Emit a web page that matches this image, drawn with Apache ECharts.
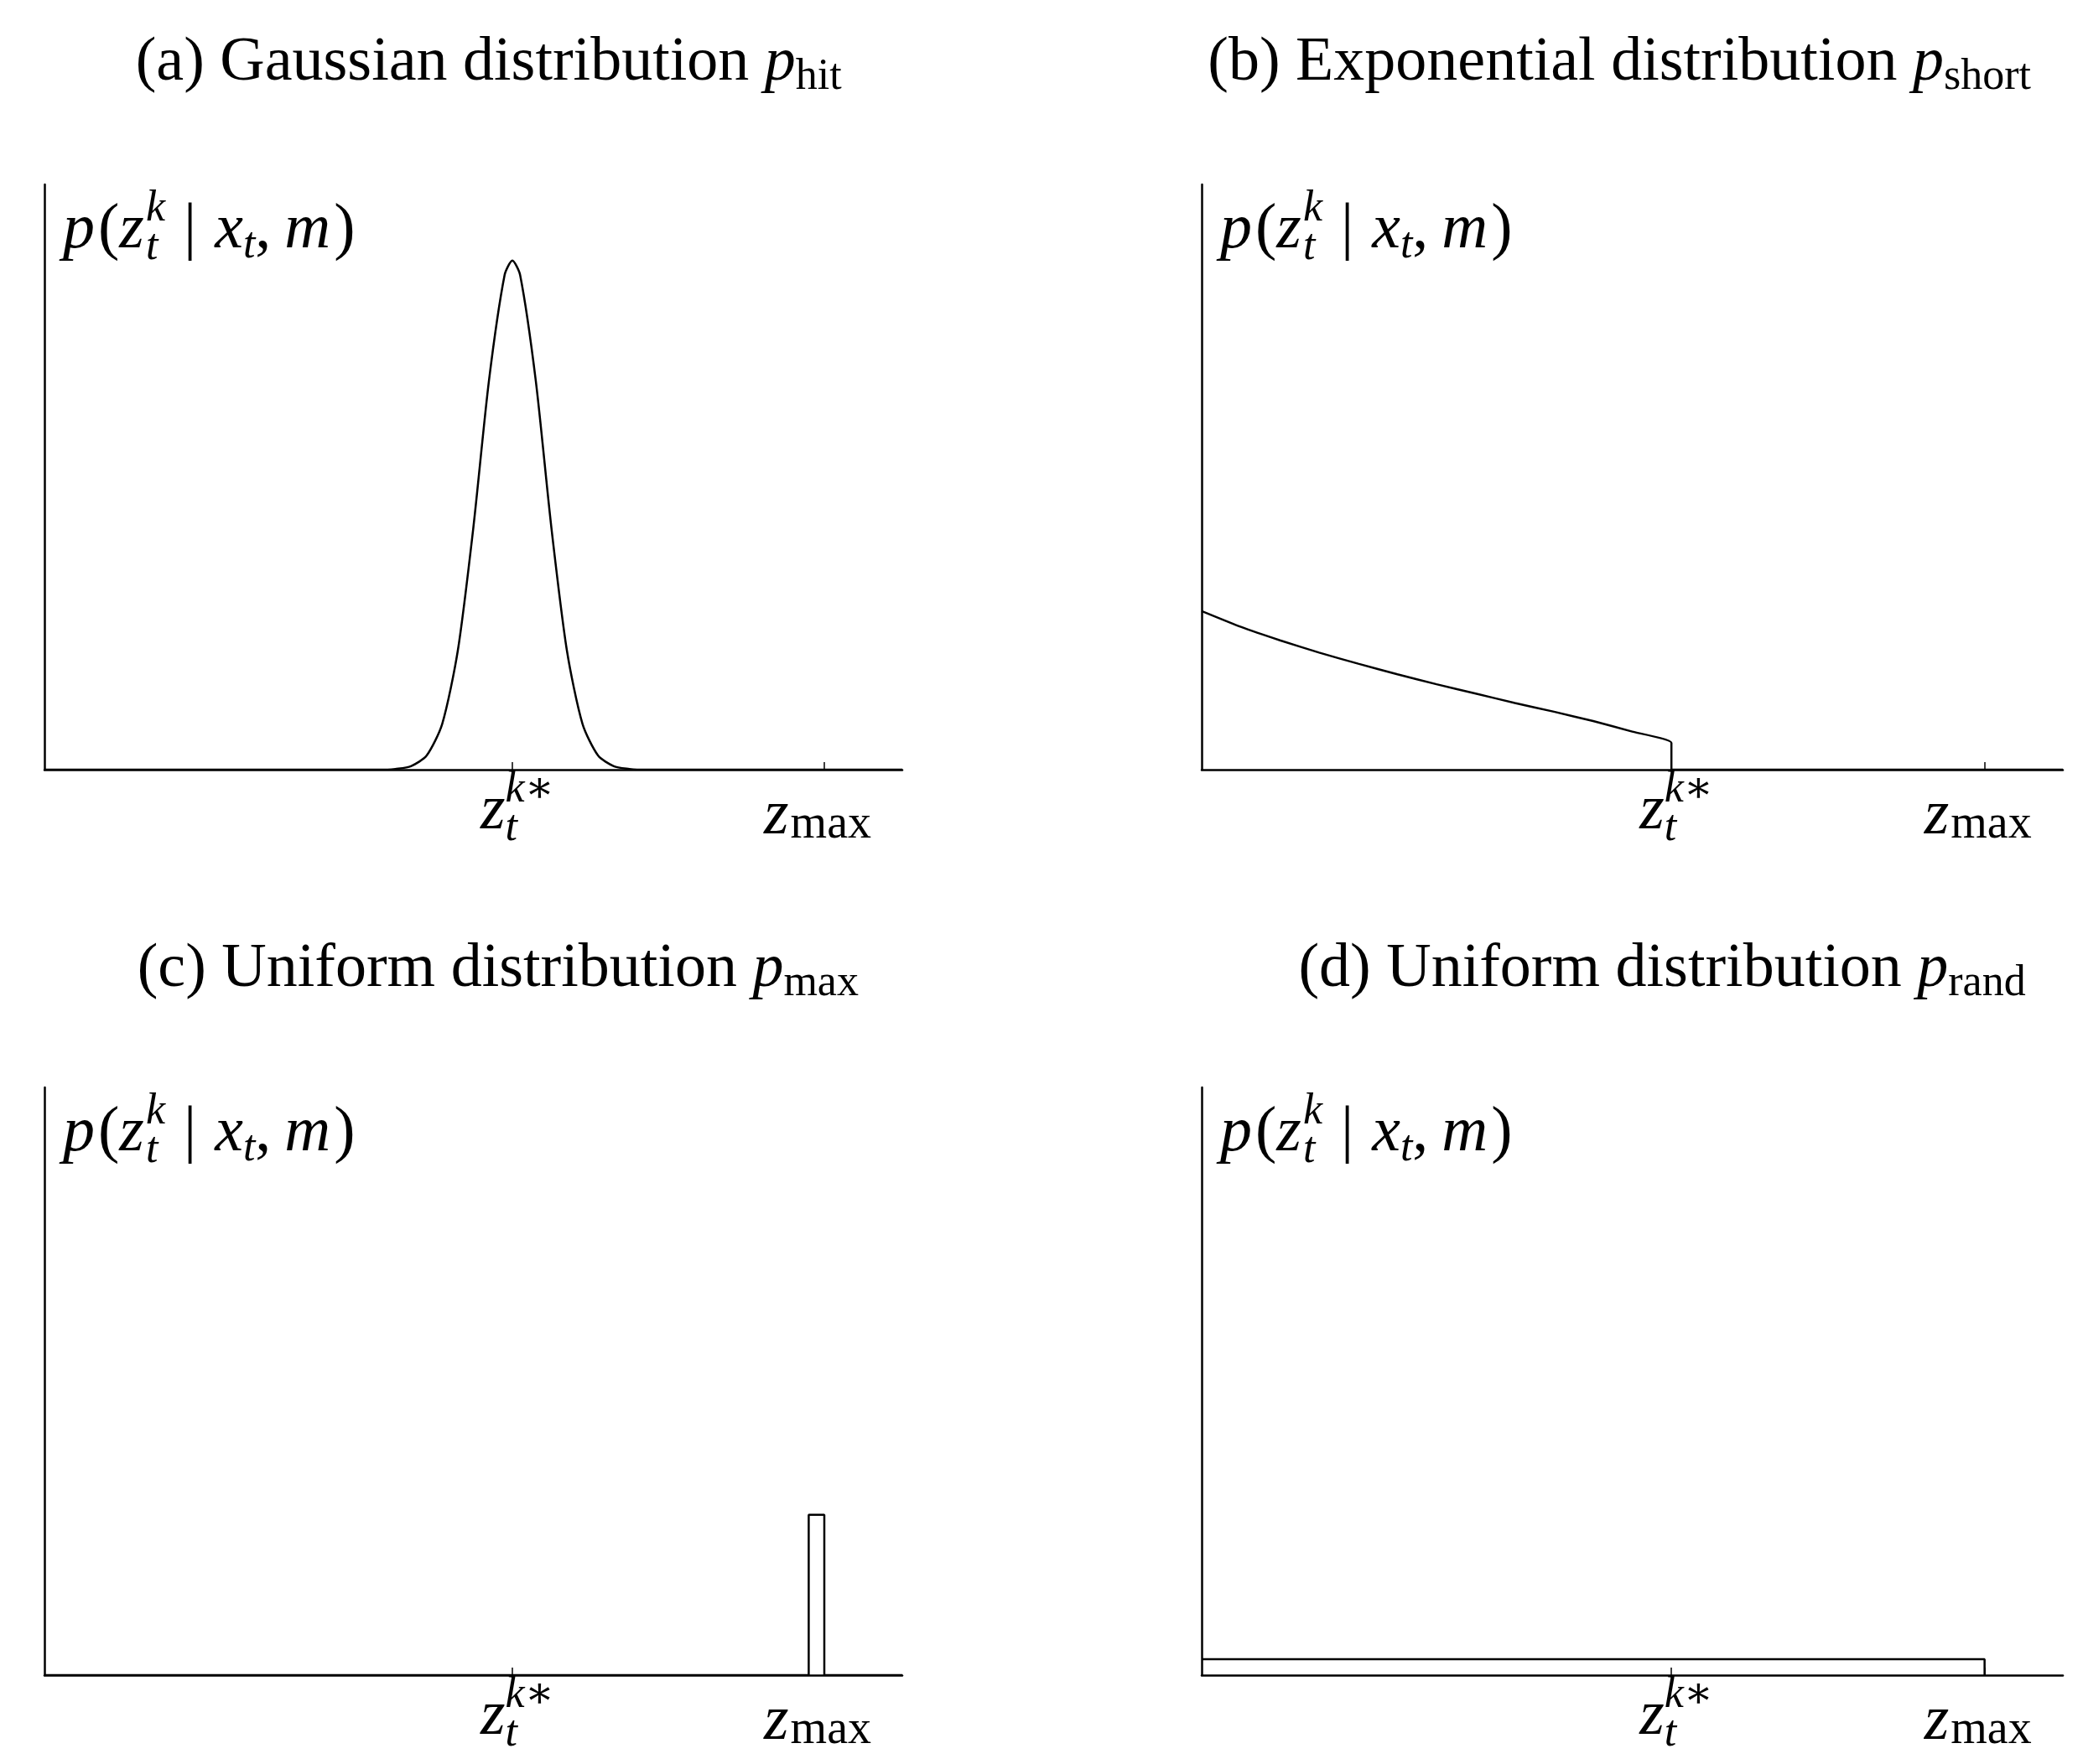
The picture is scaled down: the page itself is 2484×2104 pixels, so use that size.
<!DOCTYPE html>
<html>
<head>
<meta charset="utf-8">
<script src="https://cdn.jsdelivr.net/npm/echarts@6/dist/echarts.min.js"></script>
<style>
  html, body { margin: 0; padding: 0; background: #fff; }
  #chart { width: 2484px; height: 2104px; }
</style>
</head>
<body>
<div id="chart"></div>
<script>
// x positions in arbitrary range units, axis 0..11
const zStar = 6;
const zMax = 10;
const xRange = [0, 11];

// (a) gaussian around z*
const hitCurve = [[0, 0], [4.4, 0], [4.5, 0.001], [4.7, 0.006], [4.9, 0.024], [5.1, 0.078], [5.3, 0.203],
  [5.5, 0.414], [5.7, 0.665], [5.9, 0.845], [6.0, 0.87], [6.1, 0.845], [6.3, 0.665], [6.5, 0.414],
  [6.7, 0.203], [6.9, 0.078], [7.1, 0.024], [7.3, 0.006], [7.5, 0.001], [7.6, 0], [11, 0]];
// (b) decaying curve cut at z*
const shortCurve = [[0, 0.271], [0.5, 0.244], [1, 0.221], [1.5, 0.200], [2, 0.181], [2.5, 0.163], [3, 0.146],
  [3.5, 0.130], [4, 0.114], [4.5, 0.099], [5, 0.083], [5.5, 0.065], [6, 0.046], [6, 0], [11, 0]];
// (c) narrow box at z_max
const maxBox = [[0, 0], [9.8, 0], [9.8, 0.273], [10, 0.273], [10, 0], [11, 0]];
// (d) flat box up to z_max
const randBox = [[0, 0.027], [10, 0.027], [10, 0]];

const FONT = '"Liberation Serif", "DejaVu Serif", serif';
const grids = [
  { left: 53, top: 220, width: 1023, height: 698 },
  { left: 1433, top: 220, width: 1027, height: 698 },
  { left: 53, top: 1297, width: 1023, height: 701 },
  { left: 1433, top: 1297, width: 1027, height: 701 }
];
const curves = [hitCurve, shortCurve, maxBox, randBox];

const chart = echarts.init(document.getElementById('chart'));
const ax = { lineStyle: { color: '#000', width: 2.5 } };

chart.setOption({
  backgroundColor: '#fff',
  animation: false,
  grid: grids,
  xAxis: grids.map((g, i) => ({
    type: 'value', gridIndex: i, min: xRange[0], max: xRange[1],
    axisLine: ax, splitLine: { show: false }, axisLabel: { show: false },
    axisTick: { show: true, inside: true, length: 9, customValues: [zStar, zMax], lineStyle: { color: '#000', width: 1.5 } }
  })),
  yAxis: grids.map((g, i) => ({
    type: 'value', gridIndex: i, min: 0, max: 1,
    axisLine: { show: true, lineStyle: { color: '#000', width: 2.5 } },
    splitLine: { show: false }, axisLabel: { show: false }, axisTick: { show: false }
  })),
  series: curves.map((d, i) => ({
    type: 'line', xAxisIndex: i, yAxisIndex: i, data: d,
    showSymbol: false, smooth: i === 0 ? 0.25 : (i === 1 ? 0.15 : false),
    lineStyle: { color: '#000', width: 2.5 }
  }))
});

// math-ish text layout
const ctx = document.createElement('canvas').getContext('2d');
function fontOf(p) { return (p.i ? 'italic ' : '') + p.f + 'px ' + FONT; }
function mathText(x, y, pieces, align) {
  let cx = 0, prevStart = 0, maxX = 0;
  const pos = pieces.map(p => {
    ctx.font = fontOf(p);
    const w = ctx.measureText(p.s).width + (p.gap || 0);
    const start = p.back ? prevStart : cx + (p.pre || 0);
    prevStart = start;
    cx = p.back ? Math.max(cx, start + w) : start + w;
    maxX = Math.max(maxX, cx);
    return start;
  });
  const x0 = align === 'center' ? x - maxX / 2 : x;
  return pieces.map((p, k) => ({
    type: 'text', x: x0 + pos[k], y: y + (p.dy || 0),
    style: { text: p.s, font: fontOf(p), fill: '#000', verticalAlign: 'middle' }
  }));
}
function up(s) { return { s, f: 74 }; }
function it(s) { return { s, f: 74, i: true }; }
function sub(s) { return { s, f: 52, dy: 16 }; }

const titles = [
  [366, 76, [up('(a) Gaussian distribution '), it('p'), sub('hit')]],
  [1213, 76, [up('(b) Exponential distribution '), it('p'), sub('short')]],
  [373, 1157, [up('(c) Uniform distribution '), it('p'), sub('max')]],
  [1245, 1157, [up('(d) Uniform distribution '), it('p'), sub('rand')]]
].map(t => [t[0] * 1.592, t[1], t[2]]);
const ylab = [
  { s: 'p', f: 76, i: true, gap: 4 }, { s: '(', f: 76 }, { s: 'z', f: 76, i: true, gap: 2 },
  { s: 'k', f: 52, i: true, dy: -26 }, { s: 't', f: 52, i: true, dy: 20, back: true },
  { s: '|', f: 76, pre: 22, gap: 22 }, { s: 'x', f: 76, i: true }, { s: 't', f: 52, i: true, dy: 18 },
  { s: ',', f: 76, gap: 16 }, { s: 'm', f: 76, i: true, gap: 4 }, { s: ')', f: 76 }
];
const zs = [
  { s: 'z', f: 76, i: true }, { s: 'k∗', f: 52, i: true, dy: -26 },
  { s: 't', f: 52, i: true, dy: 20, back: true }
];
const zm = [{ s: 'z', f: 76, i: true, gap: 2 }, { s: 'max', f: 56, dy: 10 }];

let g = [];
titles.forEach(t => { g = g.concat(mathText(t[0], t[1], t[2], 'center')); });
grids.forEach((gr, i) => {
  g = g.concat(mathText(gr.left + 22, gr.top + 55, ylab, 'left'));
  const ps = chart.convertToPixel({ gridIndex: i }, [zStar, 0]);
  const pm = chart.convertToPixel({ gridIndex: i }, [zMax, 0]);
  g = g.concat(mathText(ps[0] + 6, ps[1] + 50, zs, 'center'));
  g = g.concat(mathText(pm[0] - 8, pm[1] + 56, zm, 'center'));
});
chart.setOption({ graphic: g });
</script>
</body>
</html>
